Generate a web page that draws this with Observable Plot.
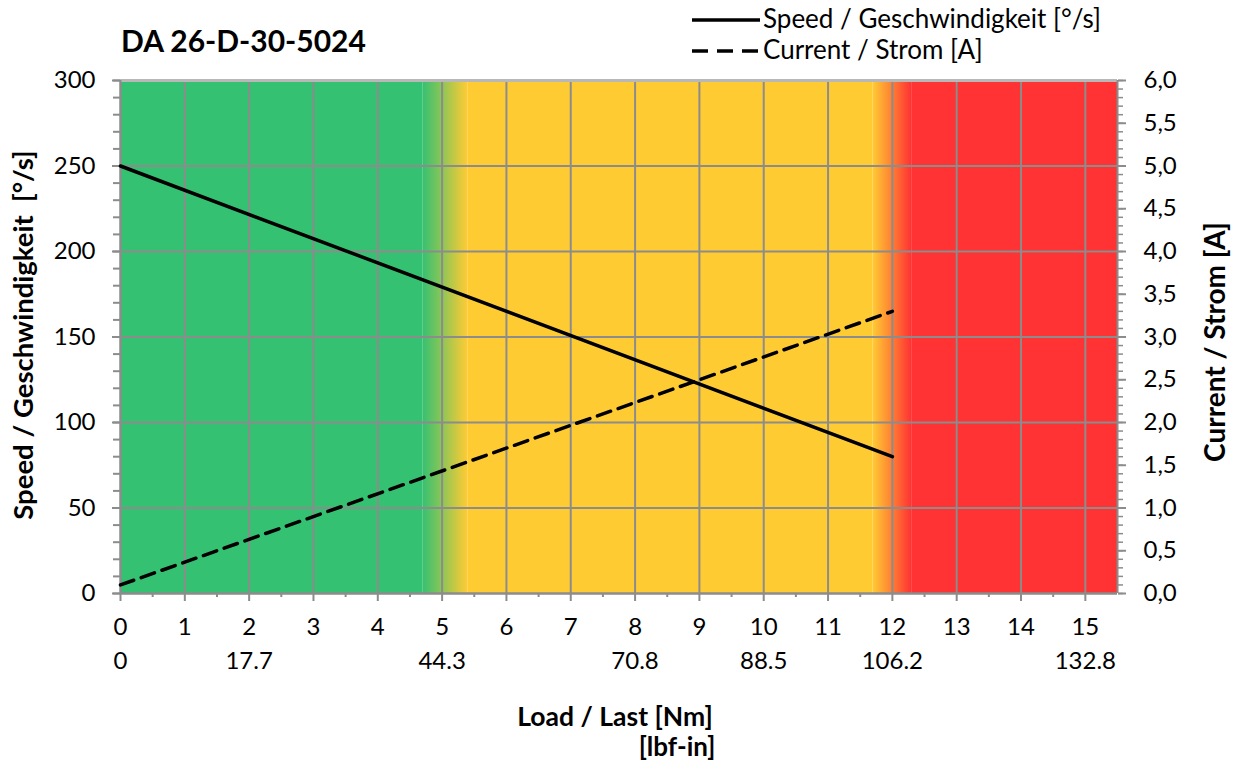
<!DOCTYPE html>
<html>
<head>
<meta charset="utf-8">
<script src="https://cdn.jsdelivr.net/npm/d3@7"></script>
<script src="https://cdn.jsdelivr.net/npm/@observablehq/plot@0.6"></script>
<style>
  html, body { margin: 0; padding: 0; background: #fff; }
  #chart { width: 1238px; height: 762px; }
</style>
</head>
<body>
<div id="chart"></div>
<script>
// ---- data ----
const loadNm = [0, 12];
const speedDeg = [250, 80];
const currentA = [0.1, 3.3];

const xTicks = [0, 1, 2, 3, 4, 5, 6, 7, 8, 9, 10, 11, 12, 13, 14, 15];
const lbfPos = [0, 2, 5, 8, 10, 12, 15];
const lbfLabels = ["0", "17.7", "44.3", "70.8", "88.5", "106.2", "132.8"];
const speedTicks = [0, 50, 100, 150, 200, 250, 300];
const currentTicks = [0, 0.5, 1, 1.5, 2, 2.5, 3, 3.5, 4, 4.5, 5, 5.5, 6];

const GREEN = "#34C172", YELLOW = "#FFCB33", RED = "#FF3333";
const bands = [
  {x1: 0, x2: 4.7, c: GREEN},
  {x1: 5.4, x2: 11.7, c: YELLOW},
  {x1: 12.3, x2: 15.5, c: RED}
];
const fades = [
  {x1: 4.7, x2: 5.4, from: GREEN, to: YELLOW},
  {x1: 11.7, x2: 12.3, from: YELLOW, to: RED}
];

const ampToDeg = 50; // right axis 6,0 A == left axis 300 °/s

const speedRows = loadNm.map((x, i) => ({x, v: speedDeg[i]}));
const currentRows = loadNm.map((x, i) => ({x, a: currentA[i]}));

const GRID = "#8c8c8c";
const FONT = "Lato, 'Open Sans', sans-serif";
const TICKFS = 24;
const DASH = "14,8";

const defsMark = () => {
  const defs = d3.create("svg:defs");
  fades.forEach((f, i) => {
    const g = defs.append("linearGradient").attr("id", "fade" + i)
      .attr("x1", "0").attr("x2", "1").attr("y1", "0").attr("y2", "0");
    g.append("stop").attr("offset", "0").attr("stop-color", f.from);
    g.append("stop").attr("offset", "1").attr("stop-color", f.to);
  });
  return defs.node();
};

const fmtA = d => (d / ampToDeg).toFixed(1).replace(".", ",");

const plot = Plot.plot({
  width: 1238,
  height: 762,
  marginLeft: 120,
  marginRight: 121,
  marginTop: 80,
  marginBottom: 169,
  x: {domain: [0, 15.5]},
  y: {domain: [0, 300]},
  style: {fontFamily: FONT, fontSize: TICKFS + "px", color: "black", background: "white"},
  marks: [
    defsMark,
    Plot.rect(bands, {x1: "x1", x2: "x2", y1: 0, y2: 300, fill: d => d.c}),
    Plot.rect([fades[0]], {x1: "x1", x2: "x2", y1: 0, y2: 300, fill: "url(#fade0)"}),
    Plot.rect([fades[1]], {x1: "x1", x2: "x2", y1: 0, y2: 300, fill: "url(#fade1)"}),
    Plot.gridX(xTicks, {stroke: GRID, strokeOpacity: 1, strokeWidth: 2}),
    Plot.gridY(speedTicks, {stroke: GRID, strokeOpacity: 1, strokeWidth: 2}),
    Plot.ruleY([300], {stroke: "#b8b8b8", strokeWidth: 3}),
    Plot.ruleY([0], {stroke: GRID, strokeWidth: 2}),
    Plot.ruleX([0], {stroke: GRID, strokeWidth: 2}),
    Plot.ruleX([15.5], {stroke: GRID, strokeWidth: 2}),
    // bottom axis
    Plot.axisX({ticks: xTicks, tickSize: 8, tickPadding: 16, stroke: GRID, strokeWidth: 2, fill: "black", fontSize: TICKFS, label: null}),
    Plot.axisX({ticks: d3.range(0.5, 15.5, 1), tickSize: 4, tickFormat: () => "", stroke: GRID, strokeWidth: 2, label: null}),
    Plot.text(lbfPos, {x: d => d, text: (d, i) => lbfLabels[i], frameAnchor: "bottom", lineAnchor: "top", dy: 58, fontSize: TICKFS, fill: "black"}),
    // left axis
    Plot.axisY({ticks: speedTicks, anchor: "left", tickSize: 8, tickPadding: 17, stroke: GRID, strokeWidth: 2, fill: "black", fontSize: TICKFS, label: null}),
    Plot.axisY({ticks: d3.range(0, 301, 10), anchor: "left", tickSize: 7, tickFormat: () => "", stroke: GRID, strokeWidth: 2, label: null}),
    // right axis
    Plot.axisY({ticks: currentTicks.map(c => c * ampToDeg), anchor: "right", tickSize: 8, tickPadding: 18, tickFormat: fmtA, stroke: GRID, strokeWidth: 2, fill: "black", fontSize: TICKFS, label: null}),
    Plot.axisY({ticks: d3.range(0, 301, 5), anchor: "right", tickSize: 5, tickFormat: () => "", stroke: GRID, strokeWidth: 1.5, label: null}),
    // series
    Plot.line(speedRows, {x: "x", y: "v", stroke: "black", strokeWidth: 3.5}),
    Plot.line(currentRows, {x: "x", y: d => d.a * ampToDeg, stroke: "black", strokeWidth: 3.5, strokeDasharray: DASH})
  ]
});

document.getElementById("chart").appendChild(plot);

// ---- titles & legend ----
const svg = d3.select(plot);
const addText = (x, y, txt, size, bold, anchor) =>
  svg.append("text").attr("x", x).attr("y", y).attr("dy", "0.35em")
    .attr("text-anchor", anchor).attr("font-family", FONT)
    .attr("font-weight", bold ? "bold" : "normal").attr("font-size", size)
    .attr("fill", "black").style("white-space", "pre").text(txt);

addText(121, 41, "DA 26-D-30-5024", 30, true, "start");

const legend = [
  {label: "Speed / Geschwindigkeit [°/s]", y: 20, dash: null},
  {label: "Current / Strom [A]", y: 51, dash: "16,9"}
];
legend.forEach(l => {
  svg.append("line").attr("x1", 692).attr("x2", 760).attr("y1", l.y).attr("y2", l.y)
    .attr("stroke", "black").attr("stroke-width", 3.5)
    .attr("stroke-dasharray", l.dash);
  addText(763, l.y - 1, l.label, 26, false, "start");
});

addText(615, 717, "Load / Last [Nm]", 26.5, true, "middle");
addText(677, 747, "[lbf-in]", 26, true, "middle");

svg.append("text").attr("transform", "translate(23,335) rotate(-90)").attr("dy", "0.35em")
  .attr("text-anchor", "middle").attr("font-family", FONT).attr("font-weight", "bold").attr("font-size", 27.5)
  .attr("fill", "black").style("white-space", "pre")
  .text("Speed / Geschwindigkeit  [°/s]");
svg.append("text").attr("transform", "translate(1215,342) rotate(-90)").attr("dy", "0.35em")
  .attr("text-anchor", "middle").attr("font-family", FONT).attr("font-weight", "bold").attr("font-size", 28)
  .attr("fill", "black")
  .text("Current / Strom [A]");
</script>
</body>
</html>
